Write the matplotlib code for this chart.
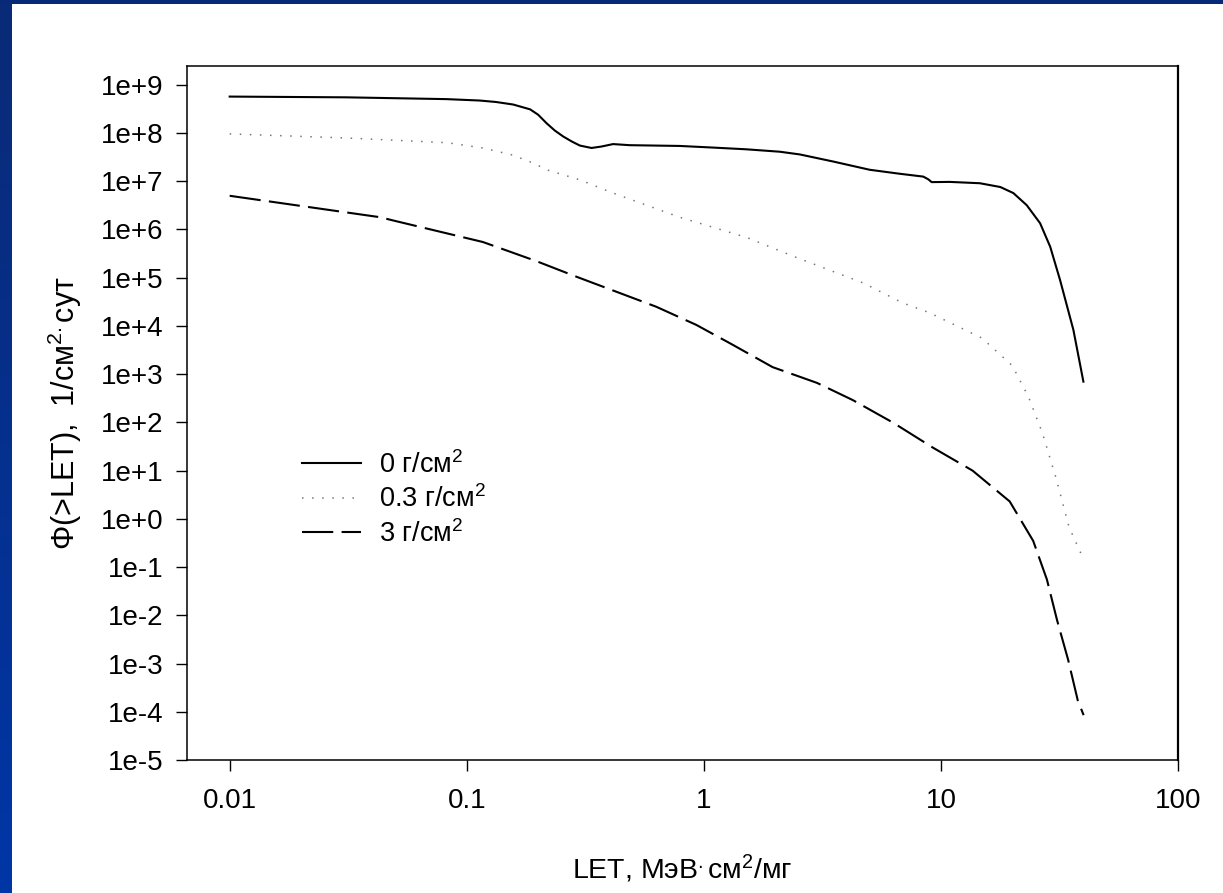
import numpy as np
import matplotlib
matplotlib.use("Agg")
import matplotlib.pyplot as plt
from matplotlib.colors import LinearSegmentedColormap

plt.rcParams['font.family'] = ['Liberation Sans', 'DejaVu Sans']
plt.rcParams['mathtext.fontset'] = 'custom'
plt.rcParams['mathtext.rm'] = 'Liberation Sans'
plt.rcParams['mathtext.it'] = 'Liberation Sans'

# LET, MeV*cm2/mg  -> integral flux, 1/cm2*day
let_0 = [0.01, 0.031, 0.082, 0.1135, 0.133, 0.157, 0.185, 0.200, 0.217, 0.235, 0.255,
         0.277, 0.300, 0.336, 0.370, 0.414, 0.487, 0.79, 1.09, 1.51, 2.09, 2.54, 3.52,
         5.01, 6.71, 8.42, 8.84, 9.14, 10.9, 14.6, 17.8, 20.2, 23.0, 26.2, 28.9, 31.8,
         36.2, 39.9]
flux_0 = [5.7e8, 5.5e8, 5.05e8, 4.72e8, 4.4e8, 3.9e8, 3.1e8, 2.4e8, 1.6e8, 1.13e8, 8.5e7,
          6.7e7, 5.5e7, 4.9e7, 5.25e7, 5.9e7, 5.6e7, 5.4e7, 5.0e7, 4.6e7, 4.1e7, 3.6e7,
          2.56e7, 1.73e7, 1.43e7, 1.25e7, 1.10e7, 9.6e6, 9.7e6, 9.1e6, 7.6e6, 5.7e6, 3.2e6,
          1.35e6, 4.4e5, 9.0e4, 8.3e3, 7.0e2]

let_03 = [0.01, 0.031, 0.083, 0.117, 0.156, 0.19, 0.22, 0.30, 0.41, 0.79, 1.52, 2.47,
          4.7, 6.9, 8.9, 14.9, 20.0, 23.4, 26.8, 30.5, 34.7, 39.6]
flux_03 = [9.6e7, 7.9e7, 6.3e7, 4.9e7, 3.5e7, 2.4e7, 1.7e7, 1.07e7, 5.8e6, 1.8e6, 6.8e5,
           2.6e5, 7.8e4, 3.0e4, 1.9e4, 5.6e3, 1.5e3, 340, 60, 7.4, 0.68, 0.16]

let_3 = [0.01, 0.043, 0.05, 0.117, 0.197, 0.29, 0.63, 0.93, 1.32, 1.95, 2.24, 3.0, 4.25,
         6.3, 9.25, 13.6, 19.5, 24.5, 28.0, 30.9, 34.4, 37.8, 40.0]
flux_3 = [5.0e6, 1.8e6, 1.5e6, 5.5e5, 2.2e5, 1.05e5, 2.5e4, 1.05e4, 4.1e3, 1.4e3, 1.1e3,
          660, 290, 98, 30, 10, 2.3, 0.35, 0.055, 7.9e-3, 1.2e-3, 1.7e-4, 8.5e-5]

labels = ['0 г/см$^\\mathrm{2}$', '0.3 г/см$^\\mathrm{2}$', '3 г/см$^\\mathrm{2}$']

xticks = [0.01, 0.1, 1, 10, 100]
xtick_labels = ['0.01', '0.1', '1', '10', '100']
yticks = [10.0 ** p for p in range(9, -6, -1)]
ytick_labels = ['1e+9', '1e+8', '1e+7', '1e+6', '1e+5', '1e+4', '1e+3', '1e+2',
                '1e+1', '1e+0', '1e-1', '1e-2', '1e-3', '1e-4', '1e-5']

W, H = 1223, 893
fig = plt.figure(figsize=(W / 100, H / 100), dpi=100)
fig.patch.set_facecolor('white')

# blue slide frame: left strip with gradient, thin top strip
cmap = LinearSegmentedColormap.from_list('frame', ['#0a2a76', '#0036a6'])
bar = fig.add_axes([0, 0, 11 / W, 1])
bar.imshow(np.linspace(0, 1, 200).reshape(-1, 1), aspect='auto', cmap=cmap)
bar.axis('off')
top = fig.add_axes([0, 1 - 4 / H, 1, 4 / H])
top.set_facecolor('#062a78')
top.set_xticks([])
top.set_yticks([])
for s in top.spines.values():
    s.set_visible(False)

ax = fig.add_axes([187 / W, 1 - 760 / H, (1178 - 187) / W, (760 - 66) / H])
ax.plot(let_0, flux_0, color='black', lw=1.5, label=labels[0])
ax.plot(let_03, flux_03, color='#777777', lw=1.1, linestyle=(0, (1, 5.6)), label=labels[1])
ax.plot(let_3, flux_3, color='black', lw=1.5, linestyle=(0, (15, 4)), label=labels[2])

ax.set_xscale('log')
ax.set_yscale('log')
ax.set_xlim(10 ** -2.18, 100)
ax.set_ylim(1e-5, 10 ** 9.39)
ax.set_xticks(xticks)
ax.set_xticklabels(xtick_labels)
ax.set_yticks(yticks)
ax.set_yticklabels(ytick_labels)
ax.minorticks_off()
ax.tick_params(axis='both', which='major', direction='out', length=8, width=1,
               labelsize=20, top=False, right=False)
ax.tick_params(axis='x', pad=12)
ax.tick_params(axis='y', pad=9)
for s in ax.spines.values():
    s.set_linewidth(1.1)
ax.spines['right'].set_linewidth(1.6)

ax.set_xlabel('LET, МэВ$^{.}$см$^\\mathrm{2}$/мг', fontsize=20.5, labelpad=28)
ax.set_ylabel('Φ(>LET),  1/см$^\\mathrm{2.}$сут', fontsize=22, labelpad=12)

ax.legend(loc='upper left', bbox_to_anchor=(0.102, 0.465), frameon=False, fontsize=19.5,
          borderpad=0, handlelength=2.2, handletextpad=0.65, labelspacing=0.25)

fig.savefig('out.png', dpi=100)
